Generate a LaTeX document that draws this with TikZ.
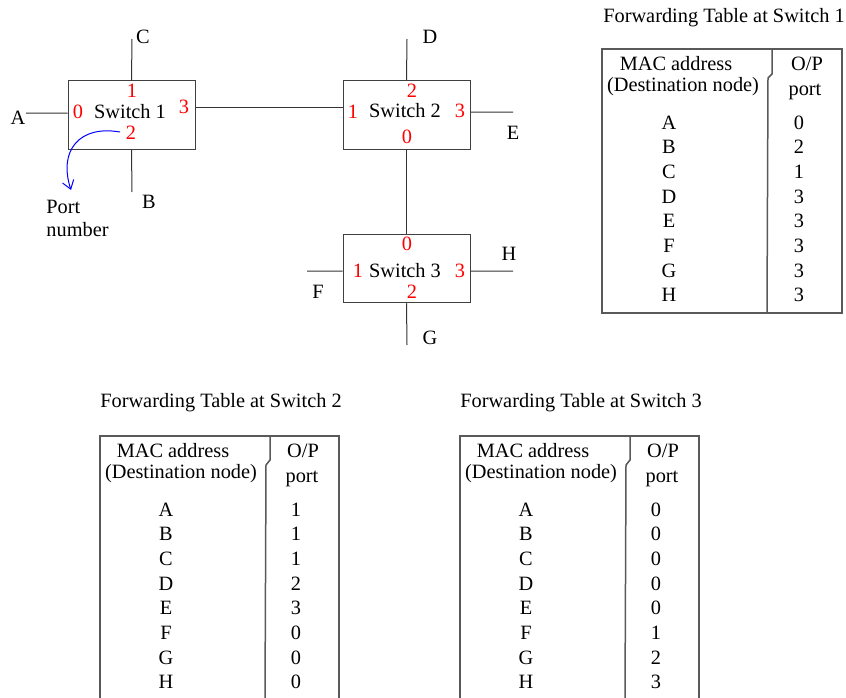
\documentclass[tikz,border=0pt]{standalone}
\usepackage{fontspec}
\setmainfont{Liberation Serif}
\usetikzlibrary{arrows.meta}

\tikzset{
  switchbox/.style={draw=black!75, line width=0.6pt, minimum width=76.2pt, minimum height=41.1pt, inner sep=0pt},
  portnum/.style={text=red},
  wire/.style={draw=black!80, line width=0.6pt},
  tableline/.style={draw=black!65, line width=0.9pt},
}

\begin{document}
\begin{tikzpicture}[x=0.6pt, y=-0.6pt, every node/.style={font=\fontsize{12.2}{13.8}\selectfont}]
  \useasboundingbox (0,0) rectangle (846,698);
  \clip (0,0) rectangle (846,698);

  % Switches
  \node[switchbox] (sw1) at (131.5,115) {};
  \node[switchbox] (sw2) at (406.5,115) {};
  \node[switchbox] (sw3) at (406.5,268.5) {};
  \node (sw1name) at (130,112) {Switch 1};
  \node (sw2name) at (405,111) {Switch 2};
  \node (sw3name) at (405,271) {Switch 3};

  % Port numbers
  \node[portnum] (sw1p0) at (78,112) {0};
  \node[portnum] (sw1p1) at (132,91) {1};
  \node[portnum] (sw1p2) at (131,133) {2};
  \node[portnum] (sw1p3) at (184,107) {3};
  \node[portnum] (sw2p0) at (407,137) {0};
  \node[portnum] (sw2p1) at (353,112) {1};
  \node[portnum] (sw2p2) at (412,91) {2};
  \node[portnum] (sw2p3) at (460,111) {3};
  \node[portnum] (sw3p0) at (407,244) {0};
  \node[portnum] (sw3p1) at (358,271) {1};
  \node[portnum] (sw3p2) at (412,292) {2};
  \node[portnum] (sw3p3) at (460,271) {3};

  % End nodes
  \coordinate (A) at (26,113);
  \coordinate (B) at (132,192);
  \coordinate (C) at (132,39);
  \coordinate (D) at (407,39);
  \coordinate (E) at (513,112);
  \coordinate (F) at (307,271);
  \coordinate (G) at (407,345);
  \coordinate (H) at (513,271);
  \node (lA) at (18,118) {A};
  \node (lB) at (149,202) {B};
  \node (lC) at (143,37) {C};
  \node (lD) at (430,37) {D};
  \node (lE) at (513,133) {E};
  \node (lF) at (318,292) {F};
  \node (lG) at (430,338) {G};
  \node (lH) at (509,254) {H};

  % Links
  \draw[wire] ([yshift=1.2pt]sw1.west) -- (A);
  \draw[wire] (sw1.north) -- (C);
  \draw[wire] (sw1.south) -- (B);
  \draw[wire] ([yshift=4.8pt]sw1.east) -- ([yshift=4.8pt]sw2.west);
  \draw[wire] (sw2.north) -- (D);
  \draw[wire] ([yshift=1.8pt]sw2.east) -- (E);
  \draw[wire] (sw2.south) -- (sw3.north);
  \draw[wire] ([yshift=-1.5pt]sw3.west) -- (F);
  \draw[wire] ([yshift=-1.5pt]sw3.east) -- (H);
  \draw[wire] (sw3.south) -- (G);

  % Port number pointer
  \coordinate (arrstart) at (120,132);
  \coordinate (arrend) at (71,190);
  \draw[blue, line width=0.6pt, -{Straight Barb[length=5pt, width=7pt]}] (arrstart) .. controls (80,125) and (58,150) .. (arrend);
  \node[align=left] (portlabel) at (77.5,218.5) {Port\\number};

  % Forwarding table at switch 1
  \begin{scope}[shift={(602,49)}]
    \node (t1title) at (122,-31) {Forwarding Table at Switch 1};
    \draw[tableline] (0,0) rectangle (240,264);
    \draw[tableline] (170,0) -- (170,25) -- (166,29) -- (165,264);
    \node (t1mac) at (74,15) {MAC address};
    \node (t1dest) at (81,38) {(Destination node)};
    \node (t1op) at (205,15) {O/P};
    \node (t1port) at (203,43) {port};
    \foreach \n/\p [count=\i from 0] in {A/0,B/2,C/1,D/3,E/3,F/3,G/3,H/3} {
      \node (t1n\i) at (67,{73.5+24.65*\i}) {\n};
      \node (t1p\i) at (197,{73.5+24.65*\i}) {\p};
    }
  \end{scope}

  % Forwarding table at switch 2
  \begin{scope}[shift={(100,436)}]
    \node (t2title) at (121,-33) {Forwarding Table at Switch 2};
    \draw[tableline] (0,0) rectangle (239,264);
    \draw[tableline] (170,0) -- (170,24) -- (166,29) -- (165,264);
    \node (t2mac) at (73,15) {MAC address};
    \node (t2dest) at (81,38) {(Destination node)};
    \node (t2op) at (203,15) {O/P};
    \node (t2port) at (202,43) {port};
    \foreach \n/\p [count=\i from 0] in {A/1,B/1,C/1,D/2,E/3,F/0,G/0,H/0} {
      \node (t2n\i) at (66,{73.5+24.65*\i}) {\n};
      \node (t2p\i) at (196,{73.5+24.65*\i}) {\p};
    }
  \end{scope}

  % Forwarding table at switch 3
  \begin{scope}[shift={(460,436)}]
    \node (t3title) at (121,-33) {Forwarding Table at Switch 3};
    \draw[tableline] (0,0) rectangle (239,264);
    \draw[tableline] (170,0) -- (170,24) -- (166,29) -- (165,264);
    \node (t3mac) at (73,15) {MAC address};
    \node (t3dest) at (81,38) {(Destination node)};
    \node (t3op) at (203,15) {O/P};
    \node (t3port) at (202,43) {port};
    \foreach \n/\p [count=\i from 0] in {A/0,B/0,C/0,D/0,E/0,F/1,G/2,H/3} {
      \node (t3n\i) at (66,{73.5+24.65*\i}) {\n};
      \node (t3p\i) at (196,{73.5+24.65*\i}) {\p};
    }
  \end{scope}
\end{tikzpicture}
\end{document}
